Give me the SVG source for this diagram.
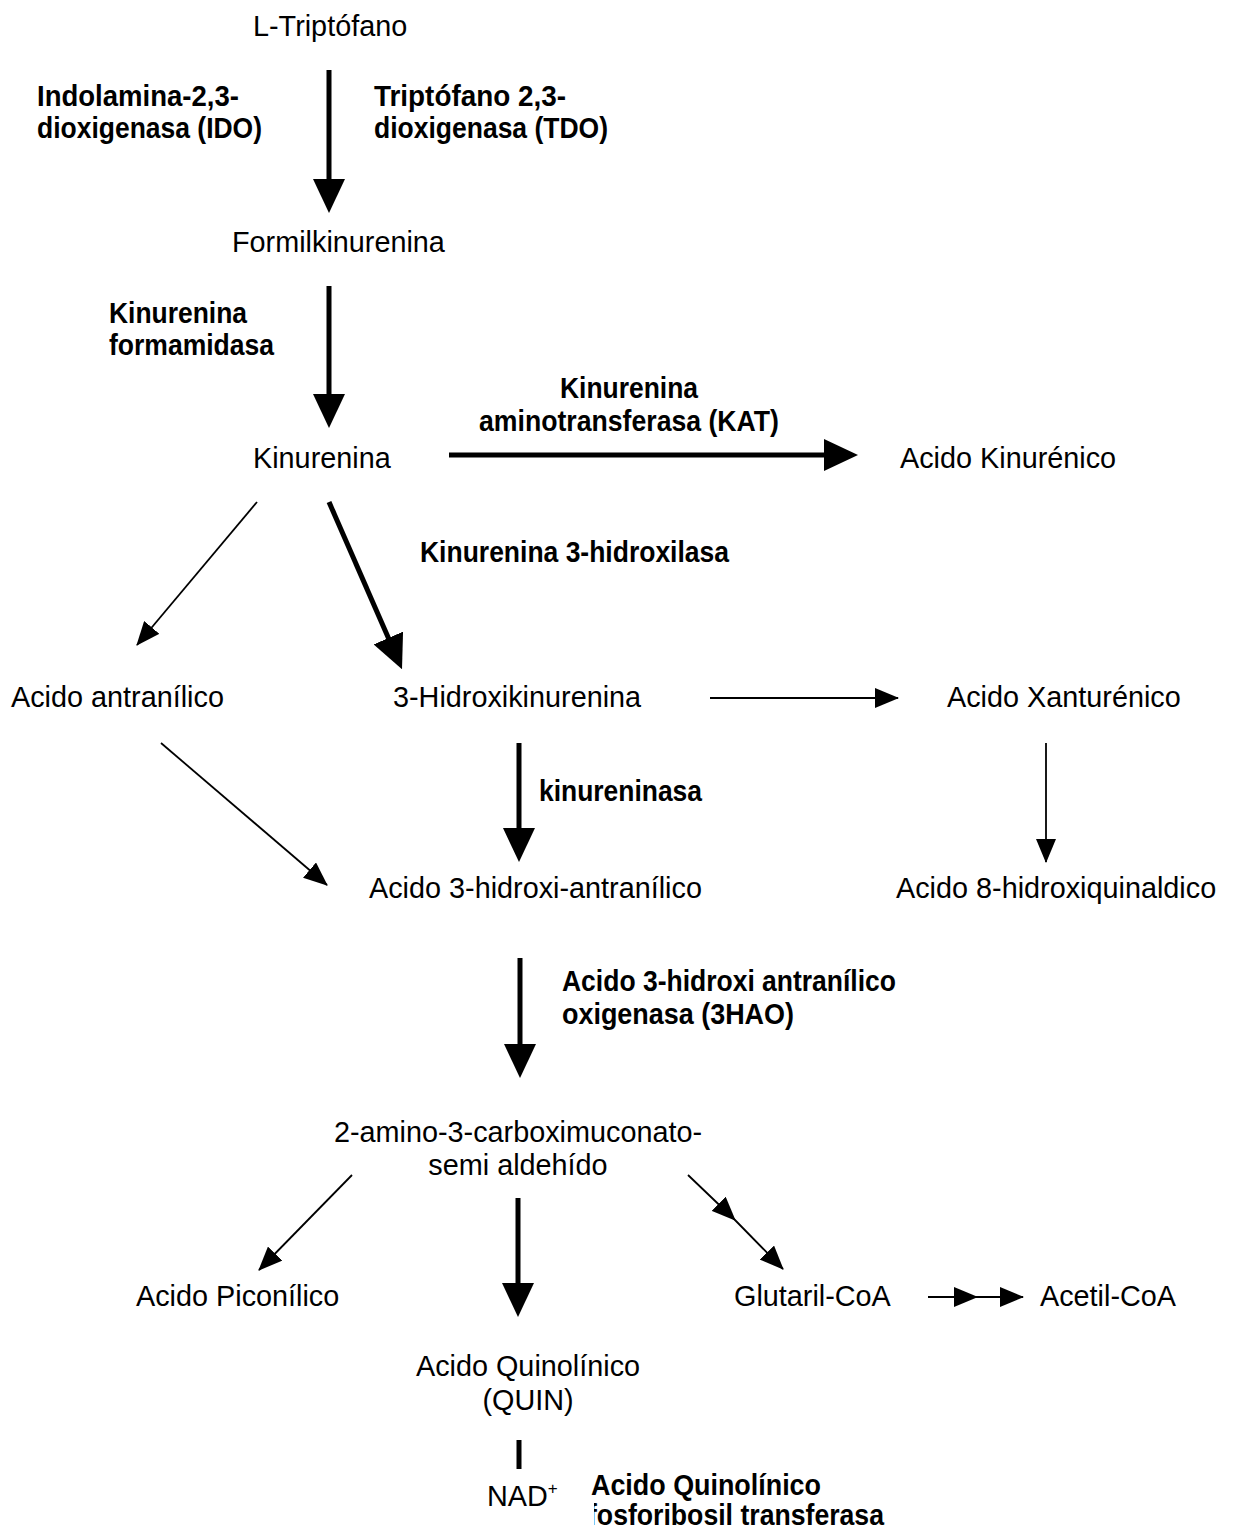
<svg xmlns="http://www.w3.org/2000/svg" width="1236" height="1530" viewBox="0 0 1236 1530">
<style>
.n{font-family:"Liberation Sans",Arial,sans-serif;font-size:28.8px;fill:#000}
.b{font-family:"Liberation Sans",Arial,sans-serif;font-size:28.8px;font-weight:bold;fill:#000}
.thick{stroke:#000;stroke-width:5;fill:none;marker-end:url(#hk)}
.thin{stroke:#000;stroke-width:1.8;fill:none;marker-end:url(#hn)}
</style>
<defs>
<marker id="hk" markerUnits="userSpaceOnUse" markerWidth="34" markerHeight="32" viewBox="0 0 34 32" refX="24" refY="16" orient="auto"><path d="M0,0 L34,16 L0,32 z" fill="#000"/></marker>
<marker id="hn" markerUnits="userSpaceOnUse" markerWidth="24" markerHeight="20" viewBox="0 0 24 20" refX="23" refY="10" orient="auto"><path d="M0,0 L24,10 L0,20 z" fill="#000"/></marker>
<clipPath id="clipF"><rect x="594" y="1470" width="642" height="60"/></clipPath>
</defs>
<rect width="1236" height="1530" fill="#fff"/>

<g id="connectors">
<line class="thick" x1="329" y1="70" x2="329" y2="203"/>
<line class="thick" x1="329" y1="286" x2="329" y2="418"/>
<line class="thick" x1="449" y1="455" x2="848" y2="455"/>
<line class="thin" x1="257" y1="502" x2="137" y2="645"/>
<line class="thick" x1="329" y1="502" x2="398" y2="660"/>
<line class="thin" x1="710" y1="698" x2="898" y2="698"/>
<line class="thin" x1="161" y1="743" x2="327" y2="885"/>
<line class="thick" x1="519" y1="743" x2="519" y2="852"/>
<line class="thin" x1="1046" y1="743" x2="1046" y2="862"/>
<line class="thick" x1="520" y1="958" x2="520" y2="1068"/>
<line class="thin" x1="352" y1="1175" x2="259" y2="1270"/>
<line class="thick" x1="518" y1="1198" x2="518" y2="1307"/>
<polyline class="thin" points="688,1175 735,1220 783,1269" style="marker-mid:url(#hn)"/>
<polyline class="thin" points="928,1297 977,1297 1023,1297" style="marker-mid:url(#hn)"/>
<line x1="519" y1="1440" x2="519" y2="1469" stroke="#000" stroke-width="5"/>
</g>

<g id="n-triptofano"><text class="n" x="253" y="36">L-Triptófano</text></g>
<g id="n-formilkinurenina"><text class="n" x="232" y="252">Formilkinurenina</text></g>
<g id="n-kinurenina"><text class="n" x="253" y="468">Kinurenina</text></g>
<g id="n-kinurenico"><text class="n" x="900" y="468">Acido Kinurénico</text></g>
<g id="n-antranilico"><text class="n" x="11" y="707">Acido antranílico</text></g>
<g id="n-hidroxikinurenina"><text class="n" x="393" y="707">3-Hidroxikinurenina</text></g>
<g id="n-xanturenico"><text class="n" x="947" y="707">Acido Xanturénico</text></g>
<g id="n-3ha"><text class="n" x="369" y="898">Acido 3-hidroxi-antranílico</text></g>
<g id="n-8hq"><text class="n" x="896" y="898">Acido 8-hidroxiquinaldico</text></g>
<g id="n-acms"><text class="n" text-anchor="middle" x="518" y="1142">2-amino-3-carboximuconato-</text><text class="n" text-anchor="middle" x="518" y="1175">semi aldehído</text></g>
<g id="n-piconilico"><text class="n" x="136" y="1306">Acido Piconílico</text></g>
<g id="n-glutaril"><text class="n" x="734" y="1306">Glutaril-CoA</text></g>
<g id="n-acetil"><text class="n" x="1040" y="1306">Acetil-CoA</text></g>
<g id="n-quin"><text class="n" text-anchor="middle" x="528" y="1376">Acido Quinolínico</text><text class="n" text-anchor="middle" x="528" y="1410">(QUIN)</text></g>
<g id="n-nad"><text class="n" x="487" y="1506">NAD<tspan font-size="17" dy="-12">+</tspan></text></g>

<g id="labels">
<text class="b" x="37" y="106" textLength="202" lengthAdjust="spacingAndGlyphs">Indolamina-2,3-</text>
<text class="b" x="37" y="138" textLength="225" lengthAdjust="spacingAndGlyphs">dioxigenasa (IDO)</text>
<text class="b" x="374" y="106" textLength="192" lengthAdjust="spacingAndGlyphs">Triptófano 2,3-</text>
<text class="b" x="374" y="138" textLength="234" lengthAdjust="spacingAndGlyphs">dioxigenasa (TDO)</text>
<text class="b" x="109" y="323" textLength="138" lengthAdjust="spacingAndGlyphs">Kinurenina</text>
<text class="b" x="109" y="355" textLength="165" lengthAdjust="spacingAndGlyphs">formamidasa</text>
<text class="b" text-anchor="middle" x="629" y="398" textLength="138" lengthAdjust="spacingAndGlyphs">Kinurenina</text>
<text class="b" text-anchor="middle" x="629" y="431" textLength="300" lengthAdjust="spacingAndGlyphs">aminotransferasa (KAT)</text>
<text class="b" x="420" y="562" textLength="309" lengthAdjust="spacingAndGlyphs">Kinurenina 3-hidroxilasa</text>
<text class="b" x="539" y="801" textLength="163" lengthAdjust="spacingAndGlyphs">kinureninasa</text>
<text class="b" x="562" y="991" textLength="334" lengthAdjust="spacingAndGlyphs">Acido 3-hidroxi antranílico</text>
<text class="b" x="562" y="1024" textLength="232" lengthAdjust="spacingAndGlyphs">oxigenasa (3HAO)</text>
<text class="b" x="591" y="1495" textLength="230" lengthAdjust="spacingAndGlyphs">Acido Quinolínico</text>
<text class="b" x="588" y="1525" textLength="296" lengthAdjust="spacingAndGlyphs" clip-path="url(#clipF)">fosforibosil transferasa</text>
</g>
</svg>
